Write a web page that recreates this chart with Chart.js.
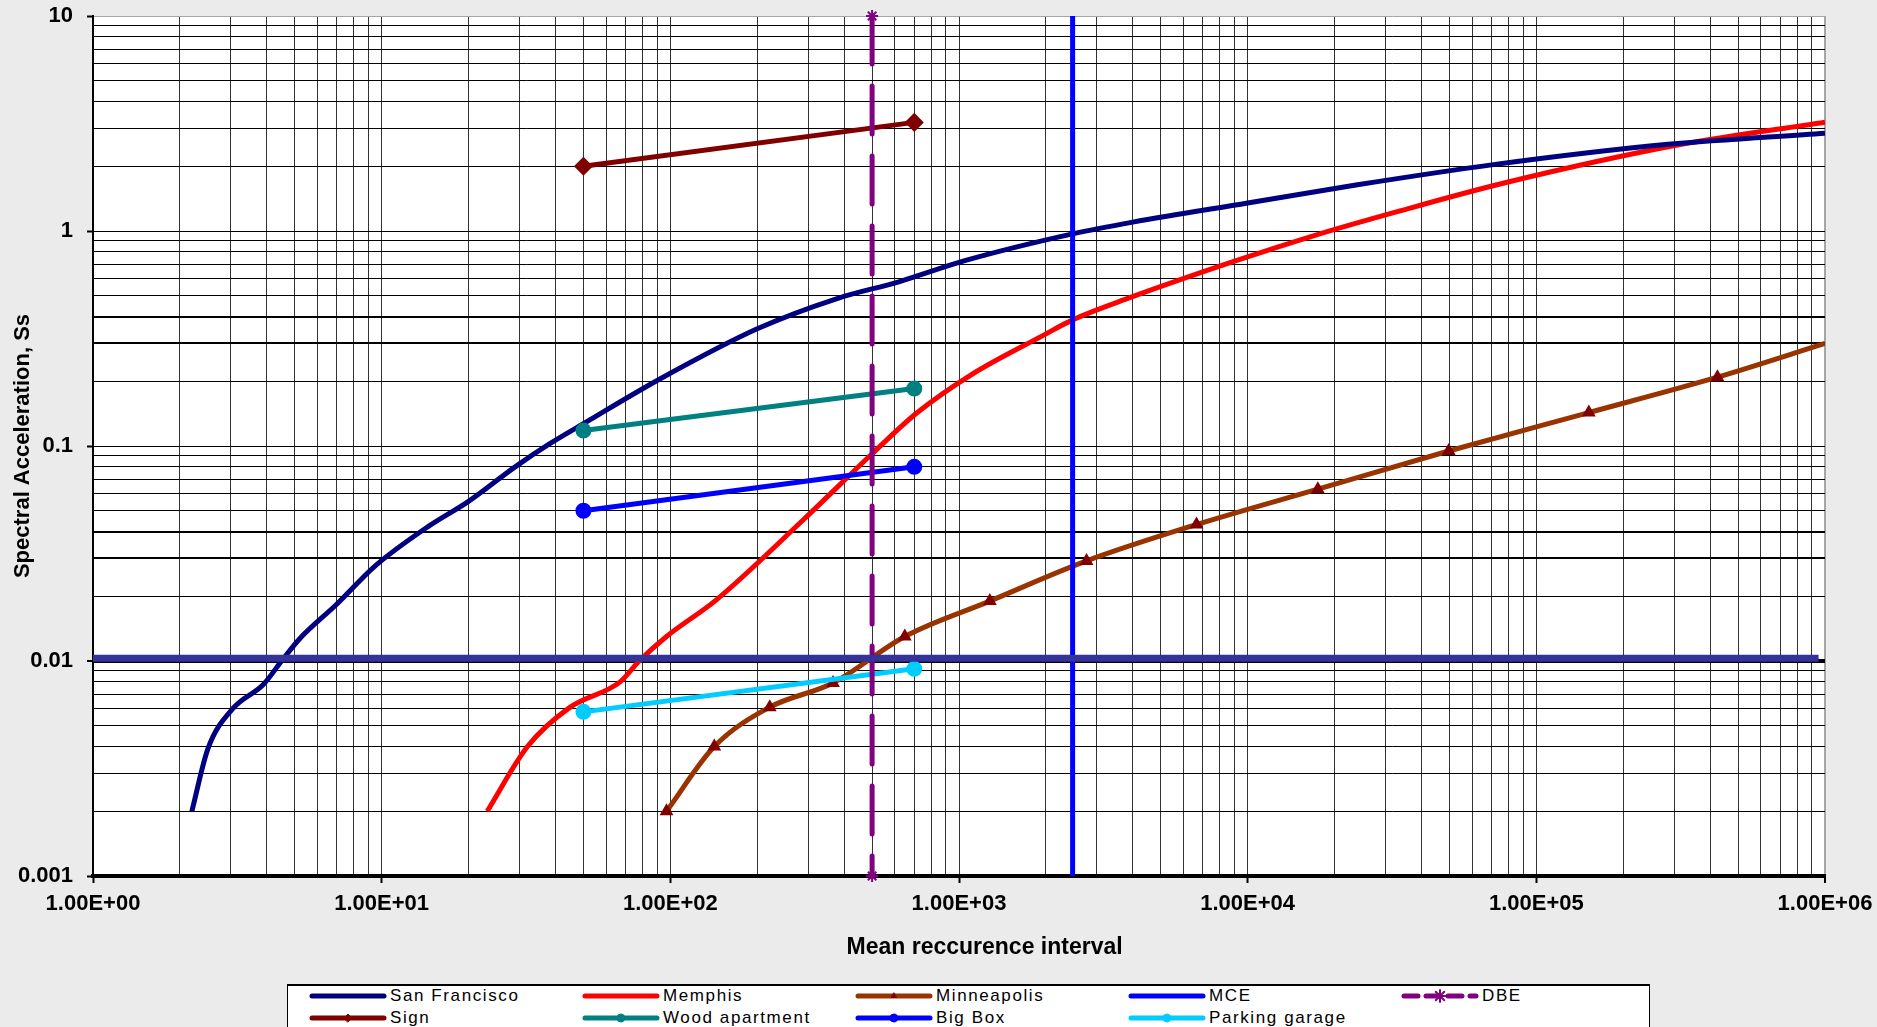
<!DOCTYPE html>
<html>
<head>
<meta charset="utf-8">
<title>Spectral acceleration vs mean recurrence interval</title>
<script src="https://cdn.jsdelivr.net/npm/chart.js@4.4.1/dist/chart.umd.min.js"></script>
<style>
  html, body { margin: 0; padding: 0; background: #ebebeb; overflow: hidden; }
  #wrap { position: relative; width: 1877px; height: 1027px; }
  #chart { display: block; }
  #legend {
    position: absolute; left: 287px; top: 984px; width: 1363px; height: 60px;
    background: #fff; border: 1px solid #000; border-top: 2px solid #000; box-sizing: border-box;
  }
  .item {
    position: absolute; height: 22px; display: flex; align-items: center;
    font: 17px 'Liberation Sans', Arial, sans-serif; letter-spacing: 1.6px; color: #000; white-space: nowrap;
  }
  .item canvas { margin-right: 3px; }
</style>
</head>
<body>
<div id="wrap">
  <canvas id="chart" width="1877" height="1027"></canvas>
  <div id="legend"></div>
</div>
<script>
'use strict';

let canvasElem = document.getElementById('chart');

// hazard curves, x = mean recurrence interval, y = spectral acceleration Ss
const sanFranciscoX = [2.2, 2.5, 3.05, 3.9, 4.55, 5.2, 7, 9.5, 14.6, 20, 29, 38, 50, 92, 200, 376, 623, 1047, 2475, 4000, 10000, 24000, 70000, 286000, 1000000];
const sanFranciscoY = [0.002, 0.0039, 0.006, 0.0078, 0.0102, 0.0127, 0.0184, 0.0277, 0.0425, 0.0553, 0.08, 0.102, 0.127, 0.205, 0.351, 0.484, 0.582, 0.728, 0.97, 1.1, 1.35, 1.64, 2.03, 2.53, 2.85];

const memphisX = [23.2, 32, 45, 67, 78, 97, 144, 292, 500, 712, 1105, 1958, 2475, 3800, 8900, 16900, 33700, 76700, 318000, 1000000];
const memphisY = [0.002, 0.004, 0.0061, 0.008, 0.01, 0.013, 0.0192, 0.046, 0.092, 0.142, 0.215, 0.327, 0.386, 0.483, 0.72, 0.95, 1.24, 1.667, 2.53, 3.21];

const minneapolisX = [97, 142, 221, 366, 649, 1279, 2766, 6650, 17500, 49700, 152000, 424000, 1000000];
const minneapolisY = [0.002, 0.004, 0.0061, 0.0079, 0.013, 0.019, 0.0292, 0.0431, 0.063, 0.0948, 0.143, 0.209, 0.3];

// building types, design range 50 to 700 years
const buildingX = [50, 700];
const signY = [2, 3.2];
const woodApartmentY = [0.118, 0.185];
const bigBoxY = [0.05, 0.08];
const parkingGarageY = [0.0058, 0.0092];

// design levels (vertical lines) and the 0.01 g threshold bar
const dbeX = [500, 500];
const mceX = [2475, 2475];
const verticalY = [10, 0.001];
const thresholdX = [1, 950000];
const thresholdY = [0.0103, 0.0103];

// tick labels, one per decade
const xTickLabels = ['1.00E+00', '1.00E+01', '1.00E+02', '1.00E+03', '1.00E+04', '1.00E+05', '1.00E+06'];
const yTickLabels = ['0.001', '0.01', '0.1', '1', '10'];

function toPoints(xs, ys) {
  return xs.map((x, i) => ({x: x, y: ys[i]}));
}

// gridline values 1..9 per decade
function logGrid(minExp, maxExp) {
  let vals = [];
  for (let e = minExp; e < maxExp; e++) {
    for (let m = 1; m <= 9; m++) {
      vals.push(Number((m * Math.pow(10, e)).toPrecision(6)));
    }
  }
  vals.push(Math.pow(10, maxExp));
  return vals;
}

function isDecade(v) {
  let l = Math.log10(v);
  return Math.abs(l - Math.round(l)) < 1e-9;
}

function near(a, b) {
  return Math.abs(Math.log10(a) - Math.log10(b)) < 1e-6;
}

Chart.defaults.font.family = "'Liberation Sans', Arial, sans-serif";
Chart.defaults.color = '#000';

const data = {
  datasets: [
    {
      label: 'San Francisco',
      data: toPoints(sanFranciscoX, sanFranciscoY),
      borderColor: '#000080',
      backgroundColor: '#000080',
      borderWidth: 5,
      pointRadius: 0,
      cubicInterpolationMode: 'monotone',
      order: 4,
    },
    {
      label: 'Memphis',
      data: toPoints(memphisX, memphisY),
      borderColor: '#ff0000',
      backgroundColor: '#ff0000',
      borderWidth: 5,
      pointRadius: 0,
      cubicInterpolationMode: 'monotone',
      order: 4,
    },
    {
      label: 'Minneapolis',
      data: toPoints(minneapolisX, minneapolisY),
      borderColor: '#993300',
      backgroundColor: '#800000',
      pointBorderColor: '#800000',
      borderWidth: 5,
      pointStyle: 'triangle',
      pointRadius: minneapolisX.map((x, i) => (i === minneapolisX.length - 1 ? 0 : 3)),
      cubicInterpolationMode: 'monotone',
      legendMarker: {style: 'triangle', radius: 3, color: '#800000'},
      order: 4,
    },
    {
      label: 'MCE',
      data: toPoints(mceX, verticalY),
      borderColor: '#0000ff',
      backgroundColor: '#0000ff',
      borderWidth: 5,
      pointRadius: 0,
      clip: false,
      order: 3,
    },
    {
      label: 'DBE',
      data: toPoints(dbeX, verticalY),
      borderColor: '#800080',
      backgroundColor: '#800080',
      borderWidth: 5,
      borderDash: [48, 22],
      borderCapStyle: 'round',
      pointStyle: 'star',
      pointRadius: 6,
      pointBorderWidth: 2,
      clip: false,
      legendMarker: {style: 'star', radius: 6, color: '#800080'},
      order: 1,
    },
    {
      label: 'Sign',
      data: toPoints(buildingX, signY),
      borderColor: '#800000',
      backgroundColor: '#800000',
      borderWidth: 5,
      pointStyle: 'rectRot',
      pointRadius: 6,
      legendMarker: {style: 'rectRot', radius: 4, color: '#800000'},
      order: 2,
    },
    {
      label: 'Wood apartment',
      data: toPoints(buildingX, woodApartmentY),
      borderColor: '#008080',
      backgroundColor: '#008080',
      borderWidth: 5,
      pointStyle: 'circle',
      pointRadius: 5.5,
      legendMarker: {style: 'circle', radius: 4, color: '#008080'},
      order: 2,
    },
    {
      label: 'Big Box',
      data: toPoints(buildingX, bigBoxY),
      borderColor: '#0000ff',
      backgroundColor: '#0000ff',
      borderWidth: 5,
      pointStyle: 'circle',
      pointRadius: 5.5,
      legendMarker: {style: 'circle', radius: 4, color: '#0000ff'},
      order: 2,
    },
    {
      label: 'Parking garage',
      data: toPoints(buildingX, parkingGarageY),
      borderColor: '#00ccff',
      backgroundColor: '#00ccff',
      borderWidth: 5,
      pointStyle: 'circle',
      pointRadius: 5.5,
      legendMarker: {style: 'circle', radius: 4, color: '#00ccff'},
      order: 2,
    },
    {
      label: '',
      data: toPoints(thresholdX, thresholdY),
      borderColor: '#333399',
      backgroundColor: '#333399',
      borderWidth: 7,
      pointRadius: 0,
      order: 0,
    },
  ],
};

const plotBackground = {
  id: 'plotBackground',
  beforeDraw(chart) {
    const {ctx, chartArea} = chart;
    ctx.save();
    ctx.fillStyle = '#ebebeb';
    ctx.fillRect(0, 0, chart.width, chart.height);
    ctx.fillStyle = '#ffffff';
    ctx.fillRect(chartArea.left, chartArea.top, chartArea.right - chartArea.left, chartArea.bottom - chartArea.top);
    ctx.restore();
  },
};

const options = {
  responsive: false,
  animation: false,
  layout: {padding: {top: 16, right: 52, left: 0, bottom: 0}},
  elements: {line: {tension: 0}},
  plugins: {
    legend: {display: false},
    tooltip: {enabled: false},
  },
  scales: {
    x: {
      type: 'logarithmic',
      position: 'bottom',
      min: 1,
      max: 1000000,
      afterBuildTicks: (scale) => { scale.ticks = logGrid(0, 6).map(v => ({value: v})); },
      afterFit: (scale) => {
        scale.height = 151;
        scale.paddingLeft = 0;
        scale.paddingRight = 0;
      },
      ticks: {
        autoSkip: false,
        maxRotation: 0,
        minRotation: 0,
        padding: 8,
        font: {size: 22, weight: 'bold'},
        callback: (value) => (isDecade(value) ? xTickLabels[Math.round(Math.log10(value))] : ''),
      },
      grid: {
        color: (ctx) => (ctx.tick && near(ctx.tick.value, 1000000) ? '#a6a6a6' : '#333'),
        lineWidth: (ctx) => (ctx.tick && near(ctx.tick.value, 1000000) ? 2 : 1),
        tickLength: 7,
        tickWidth: 2,
        tickColor: (ctx) => (ctx.tick && isDecade(ctx.tick.value) ? '#000' : 'rgba(0,0,0,0)'),
      },
      border: {color: '#000', width: 4},
      title: {
        display: true,
        // leading spaces push the centred title right, as in the original
        text: '\u00a0\u00a0\u00a0\u00a0\u00a0\u00a0\u00a0\u00a0Mean reccurence interval',
        font: {size: 23, weight: 'bold'},
        padding: {top: 0, bottom: 66},
      },
    },
    y: {
      type: 'logarithmic',
      min: 0.001,
      max: 10,
      afterBuildTicks: (scale) => { scale.ticks = logGrid(-3, 1).map(v => ({value: v})); },
      afterFit: (scale) => {
        scale.width = 93;
        scale.paddingTop = 0;
        scale.paddingBottom = 0;
      },
      ticks: {
        autoSkip: false,
        padding: 14,
        font: {size: 22, weight: 'bold'},
        callback: (value) => (isDecade(value) ? yTickLabels[Math.round(Math.log10(value)) + 3] : ''),
      },
      grid: {
        color: (ctx) => (ctx.tick && near(ctx.tick.value, 10) ? '#a6a6a6' : '#000'),
        lineWidth: (ctx) => {
          if (!ctx.tick) return 1;
          let v = ctx.tick.value;
          if (near(v, 0.01)) return 4;
          if (near(v, 0.4) || near(v, 0.3) || near(v, 0.04) || near(v, 0.03)) return 2;
          return 1;
        },
        tickLength: 6,
        tickWidth: 2,
        tickColor: (ctx) => (ctx.tick && isDecade(ctx.tick.value) ? '#000' : 'rgba(0,0,0,0)'),
      },
      border: {color: '#000', width: 2},
      title: {
        display: true,
        text: 'Spectral Acceleration, Ss',
        font: {size: 22, weight: 'bold'},
        padding: {top: 10, bottom: 0},
      },
    },
  },
};

data.datasets.forEach(ds => { ds.showLine = true; });

const chart = new Chart(canvasElem, {
  type: 'scatter',
  data: data,
  options: options,
  plugins: [plotBackground],
});

// legend: 5 columns, 2 rows, built from the datasets
function buildLegend(chart) {
  const box = document.getElementById('legend');
  chart.data.datasets.forEach((ds, i) => {
    if (ds.label === '') return;
    const item = document.createElement('div');
    item.className = 'item';
    item.style.left = (21 + 273 * (i % 5)) + 'px';
    item.style.top = (i < 5 ? -1 : 21) + 'px';
    const c = document.createElement('canvas');
    c.width = 78;
    c.height = 16;
    const g = c.getContext('2d');
    g.strokeStyle = ds.borderColor;
    g.lineWidth = 5;
    g.lineCap = 'round';
    if (ds.borderDash) g.setLineDash([14, 8]);
    g.beginPath();
    g.moveTo(3, 8);
    g.lineTo(75, 8);
    g.stroke();
    g.setLineDash([]);
    const mk = ds.legendMarker;
    if (mk && Chart.helpers && Chart.helpers.drawPoint) {
      g.fillStyle = mk.color;
      g.strokeStyle = mk.color;
      g.lineWidth = mk.style === 'star' ? 2 : 1;
      Chart.helpers.drawPoint(g, {pointStyle: mk.style, radius: mk.radius, rotation: 0, borderWidth: g.lineWidth}, 39, 8);
    }
    item.appendChild(c);
    item.appendChild(document.createTextNode(ds.label));
    box.appendChild(item);
  });
}

buildLegend(chart);
</script>
</body>
</html>
